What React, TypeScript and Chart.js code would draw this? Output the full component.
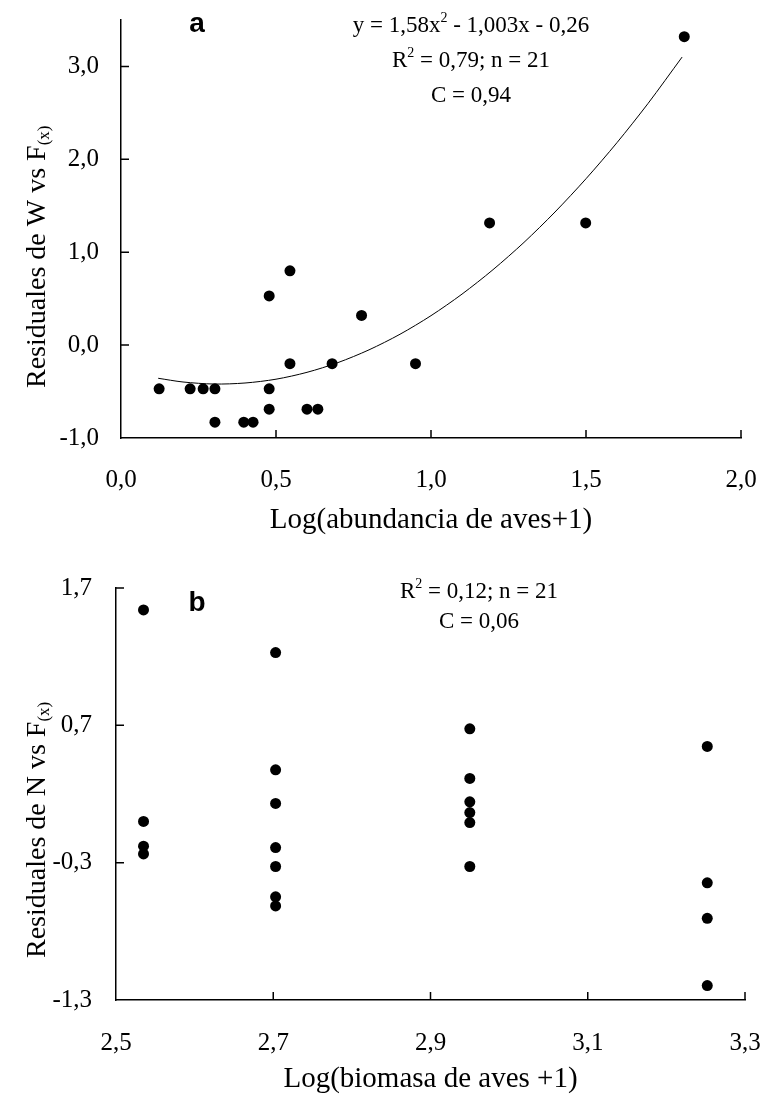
import React, { useEffect, useRef } from "react";
import { Chart, registerables } from "chart.js";
Chart.register(...registerables);

// ---------- Panel a data ----------
const aX = [0.123, 0.223, 0.265, 0.303, 0.303, 0.396, 0.426, 0.478, 0.478, 0.478, 0.545, 0.545, 0.6, 0.635, 0.681, 0.776, 0.95, 1.189, 1.499, 1.817];
const aY = [-0.47, -0.47, -0.47, -0.47, -0.83, -0.83, -0.83, -0.47, -0.69, 0.53, 0.8, -0.2, -0.69, -0.69, -0.2, 0.32, -0.2, 1.315, 1.315, 3.32];
const aFitX = [0.12, 0.2, 0.3, 0.4, 0.5, 0.6, 0.7, 0.8, 0.9, 1.0, 1.1, 1.2, 1.3, 1.4, 1.5, 1.6, 1.7, 1.81];
const aFitY = [-0.357, -0.397, -0.419, -0.408, -0.367, -0.293, -0.188, -0.051, 0.117, 0.317, 0.549, 0.812, 1.106, 1.433, 1.791, 2.18, 2.601, 3.101];
const aXTicks = [0, 0.5, 1.0, 1.5, 2.0];
const aYTicks = [-1, 0, 1, 2, 3];

// ---------- Panel b data ----------
const bX = [2.535, 2.535, 2.535, 2.535, 2.703, 2.703, 2.703, 2.703, 2.703, 2.703, 2.703, 2.95, 2.95, 2.95, 2.95, 2.95, 2.95, 3.252, 3.252, 3.252, 3.252];
const bY = [1.54, 0.0, -0.18, -0.236, 1.23, 0.376, 0.131, -0.19, -0.328, -0.549, -0.615, 0.675, 0.313, 0.143, 0.065, -0.008, -0.328, 0.546, -0.447, -0.705, -1.195];
const bXTicks = [2.5, 2.7, 2.9, 3.1, 3.3];
const bYTicks = [-1.3, -0.3, 0.7, 1.7];

const SERIF = "'Liberation Serif', 'Times New Roman', serif";
const SANS = "'Liberation Sans', Arial, sans-serif";

type Run = { t: string; size: number; dy?: number };

function runsWidth(ctx: CanvasRenderingContext2D, runs: Run[]) {
  let w = 0;
  for (const r of runs) {
    ctx.font = `${r.size}px ${SERIF}`;
    w += ctx.measureText(r.t).width;
  }
  return w;
}

function drawRuns(ctx: CanvasRenderingContext2D, runs: Run[], x: number, y: number) {
  let cx = x;
  ctx.textAlign = "left";
  ctx.textBaseline = "alphabetic";
  for (const r of runs) {
    ctx.font = `${r.size}px ${SERIF}`;
    ctx.fillText(r.t, cx, y + (r.dy || 0));
    cx += ctx.measureText(r.t).width;
  }
}

function drawCentered(ctx: CanvasRenderingContext2D, runs: Run[], cx: number, y: number) {
  drawRuns(ctx, runs, cx - runsWidth(ctx, runs) / 2, y);
}

function inwardTicks(xt: number[], yt: number[], len: number) {
  return {
    id: "inwardTicks",
    afterDraw(chart: any) {
      const ctx = chart.ctx as CanvasRenderingContext2D;
      const xs = chart.scales.x;
      const ys = chart.scales.y;
      const a = chart.chartArea;
      ctx.save();
      ctx.strokeStyle = "#000";
      ctx.lineWidth = 1.5;
      ctx.beginPath();
      for (const v of xt) {
        const px = xs.getPixelForValue(v);
        if (Math.abs(px - a.left) < 1) continue;
        ctx.moveTo(px, a.bottom);
        ctx.lineTo(px, a.bottom - len);
      }
      for (const v of yt) {
        const py = ys.getPixelForValue(v);
        if (Math.abs(py - a.bottom) < 1) continue;
        ctx.moveTo(a.left, py);
        ctx.lineTo(a.left + len, py);
      }
      ctx.stroke();
      ctx.restore();
    },
  };
}

function textPlugin(fn: (ctx: CanvasRenderingContext2D, a: any) => void) {
  return {
    id: "texts",
    afterDraw(chart: any) {
      const ctx = chart.ctx as CanvasRenderingContext2D;
      ctx.save();
      ctx.fillStyle = "#000";
      fn(ctx, chart.chartArea);
      ctx.restore();
    },
  };
}

const fmt = (v: any) => Number(v).toFixed(1).replace(".", ",");

const zeroPad = (s: any) => {
  s.paddingLeft = 0;
  s.paddingRight = 0;
  s.paddingTop = 0;
  s.paddingBottom = 0;
};

function makeOptions(p: {
  xmin: number; xmax: number; ymin: number; ymax: number;
  xt: number[]; yt: number[];
  pad: { left: number; right: number; top: number; bottom: number };
  yWidth: number; xHeight: number; yPad: number; xPad: number;
}) {
  return {
    animation: false as const,
    responsive: false,
    devicePixelRatio: 1,
    layout: { padding: p.pad },
    plugins: { legend: { display: false }, tooltip: { enabled: false } },
    scales: {
      x: {
        type: "linear" as const,
        min: p.xmin,
        max: p.xmax,
        afterBuildTicks: (s: any) => { s.ticks = p.xt.map((v) => ({ value: v })); },
        afterFit: (s: any) => { s.height = p.xHeight; zeroPad(s); },
        grid: { display: false, drawTicks: false },
        border: { display: true, color: "#000", width: 1.5 },
        ticks: { color: "#000", font: { family: SERIF, size: 25 }, padding: p.xPad, autoSkip: false, maxRotation: 0, callback: fmt },
      },
      y: {
        type: "linear" as const,
        min: p.ymin,
        max: p.ymax,
        afterBuildTicks: (s: any) => { s.ticks = p.yt.map((v) => ({ value: v })); },
        afterFit: (s: any) => { s.width = p.yWidth; zeroPad(s); },
        grid: { display: false, drawTicks: false },
        border: { display: true, color: "#000", width: 1.5 },
        ticks: { color: "#000", font: { family: SERIF, size: 25 }, padding: p.yPad, autoSkip: false, callback: fmt },
      },
    },
  };
}

export default function App() {
  const ref1 = useRef<HTMLCanvasElement>(null);
  const ref2 = useRef<HTMLCanvasElement>(null);

  useEffect(() => {
    const c1 = new Chart(ref1.current!, {
      type: "scatter",
      data: {
        datasets: [
          {
            data: aFitX.map((x, i) => ({ x, y: aFitY[i] })),
            showLine: true,
            borderColor: "#000",
            borderWidth: 1,
            pointRadius: 0,
            tension: 0.3,
          },
          {
            data: aX.map((x, i) => ({ x, y: aY[i] })),
            pointRadius: 5.5,
            pointBackgroundColor: "#000",
            pointBorderColor: "#000",
            pointBorderWidth: 0,
          },
        ],
      },
      options: makeOptions({
        xmin: 0, xmax: 2, ymin: -1, ymax: 3.5, xt: aXTicks, yt: aYTicks,
        pad: { left: 0, right: 23, top: 20, bottom: 27 },
        yWidth: 121, xHeight: 80, yPad: 22, xPad: 27,
      }) as any,
      plugins: [
        inwardTicks(aXTicks, aYTicks, 8),
        textPlugin((ctx, a) => {
          // panel letter
          ctx.font = `bold 28px ${SANS}`;
          ctx.textAlign = "center";
          ctx.textBaseline = "alphabetic";
          ctx.fillText("a", a.left + 76, 32);
          // equation annotation
          const cx = a.left + 350;
          drawCentered(ctx, [
            { t: "y = 1,58x", size: 23 },
            { t: "2", size: 14, dy: -10 },
            { t: " - 1,003x - 0,26", size: 23 },
          ], cx, 32);
          drawCentered(ctx, [
            { t: "R", size: 23 },
            { t: "2", size: 14, dy: -10 },
            { t: " = 0,79; n = 21", size: 23 },
          ], cx, 67);
          drawCentered(ctx, [{ t: "C = 0,94", size: 23 }], cx, 102);
          // x title
          drawCentered(ctx, [{ t: "Log(abundancia de aves+1)", size: 29 }], (a.left + a.right) / 2, 528);
          // y title
          ctx.save();
          ctx.translate(45, 388);
          ctx.rotate(-Math.PI / 2);
          drawRuns(ctx, [
            { t: "Residuales de W vs F", size: 28 },
            { t: "(x)", size: 17, dy: 4 },
          ], 0, 0);
          ctx.restore();
        }),
      ],
    });

    const c2 = new Chart(ref2.current!, {
      type: "scatter",
      data: {
        datasets: [
          {
            data: bX.map((x, i) => ({ x, y: bY[i] })),
            pointRadius: 5.5,
            pointBackgroundColor: "#000",
            pointBorderColor: "#000",
            pointBorderWidth: 0,
          },
        ],
      },
      options: makeOptions({
        xmin: 2.5, xmax: 3.3, ymin: -1.3, ymax: 1.7, xt: bXTicks, yt: bYTicks,
        pad: { left: 0, right: 19, top: 43, bottom: 17 },
        yWidth: 116, xHeight: 80, yPad: 24, xPad: 28,
      }) as any,
      plugins: [
        inwardTicks(bXTicks, bYTicks, 8),
        textPlugin((ctx, a) => {
          ctx.font = `bold 28px ${SANS}`;
          ctx.textAlign = "center";
          ctx.textBaseline = "alphabetic";
          ctx.fillText("b", a.left + 81, 66);
          const cx = a.left + 363;
          drawCentered(ctx, [
            { t: "R", size: 23 },
            { t: "2", size: 14, dy: -10 },
            { t: " = 0,12; n = 21", size: 23 },
          ], cx, 53);
          drawCentered(ctx, [{ t: "C = 0,06", size: 23 }], cx, 83);
          drawCentered(ctx, [{ t: "Log(biomasa de aves +1)", size: 29 }], (a.left + a.right) / 2, 542);
          ctx.save();
          ctx.translate(45, 413);
          ctx.rotate(-Math.PI / 2);
          drawRuns(ctx, [
            { t: "Residuales de N vs F", size: 28 },
            { t: "(x)", size: 17, dy: 4 },
          ], 0, 0);
          ctx.restore();
        }),
      ],
    });

    return () => {
      c1.destroy();
      c2.destroy();
    };
  }, []);

  return (
    <div style={{ position: "absolute", left: 0, top: 0, width: 764, height: 1097, background: "#fff" }}>
      <canvas ref={ref1} width={764} height={545} style={{ position: "absolute", left: 0, top: 0, display: "block" }} />
      <canvas ref={ref2} width={764} height={552} style={{ position: "absolute", left: 0, top: 545, display: "block" }} />
    </div>
  );
}
